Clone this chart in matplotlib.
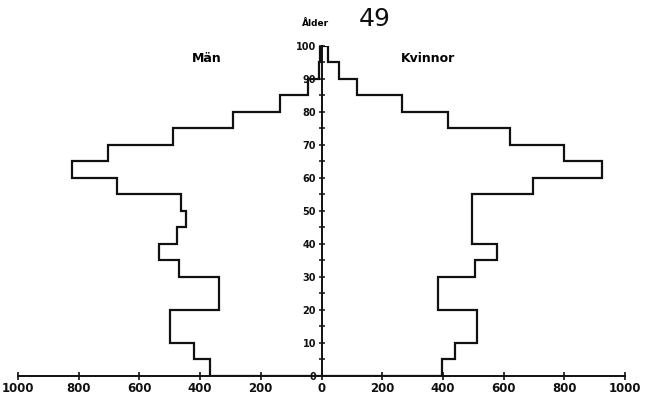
import numpy as np
import matplotlib
matplotlib.use("Agg")
import matplotlib.pyplot as plt
from matplotlib.ticker import MultipleLocator, FuncFormatter

# Age group edges (years)
age_edges = [0, 5, 10, 20, 30, 35, 40, 45, 50, 55, 60, 65, 70, 75, 80, 85, 90, 95, 100]
# Men (Män) per age group
men = [369, 420, 500, 338, 468, 537, 475, 447, 464, 674, 823, 702, 489, 290, 138, 43, 8, 4]
# Women (Kvinnor) per age group
women = [398, 439, 514, 385, 505, 577, 496, 496, 496, 697, 923, 799, 622, 417, 266, 117, 59, 21]

x_ticks = [-1000, -800, -600, -400, -200, 0, 200, 400, 600, 800, 1000]
y_ticks = [0, 10, 20, 30, 40, 50, 60, 70, 80, 90, 100]

W, H = 646, 397
fig = plt.figure(figsize=(W / 100, H / 100), dpi=100)
# age 0 at y=376 px from top, age 100 at y=45.7 px; x -1000 at 18 px, +1000 at 625 px
ax = fig.add_axes([18 / W, (H - 376) / H, 607 / W, (376 - 45.7) / H])
ax.set_xlim(-1000, 1000)
ax.set_ylim(0, 100)

line_kw = dict(color="#111111", linewidth=1.6)
ax.stairs(-np.array(men), age_edges, orientation="horizontal", baseline=0, **line_kw)
ax.stairs(np.array(women), age_edges, orientation="horizontal", baseline=0, **line_kw)

for s in ["top", "right"]:
    ax.spines[s].set_visible(False)
ax.spines["left"].set_position(("data", 0))
ax.spines["left"].set_linewidth(1.4)
ax.spines["bottom"].set_linewidth(1.4)
ax.spines["left"].set_color("#111111")
ax.spines["bottom"].set_color("#111111")

ax.set_xticks(x_ticks)
ax.xaxis.set_major_formatter(FuncFormatter(lambda v, p: f"{abs(int(v))}"))
ax.set_yticks(y_ticks)
ax.yaxis.set_minor_locator(MultipleLocator(5))
ax.tick_params(axis="x", direction="inout", length=6, width=1.2, pad=1,
               labelsize=8.5, colors="#111111")
ax.tick_params(axis="y", which="both", direction="inout", length=5, width=1.1,
               pad=1.5, labelsize=7, colors="#111111")
for lab in ax.get_xticklabels() + ax.get_yticklabels():
    lab.set_fontweight("bold")
ax.patch.set_alpha(0)

fig.text(207 / W, 1 - 59 / H, "Män", fontsize=9, fontweight="bold", ha="center", va="center")
fig.text(428 / W, 1 - 58 / H, "Kvinnor", fontsize=9, fontweight="bold", ha="center", va="center")
fig.text(316 / W, 1 - 24 / H, "Ålder", fontsize=6.5, fontweight="bold", ha="center", va="center")
fig.text(375 / W, 1 - 19 / H, "49", fontsize=18, fontweight="normal", family="DejaVu Sans",
         color="#111111", ha="center", va="center")

fig.savefig("out.png", dpi=100)
